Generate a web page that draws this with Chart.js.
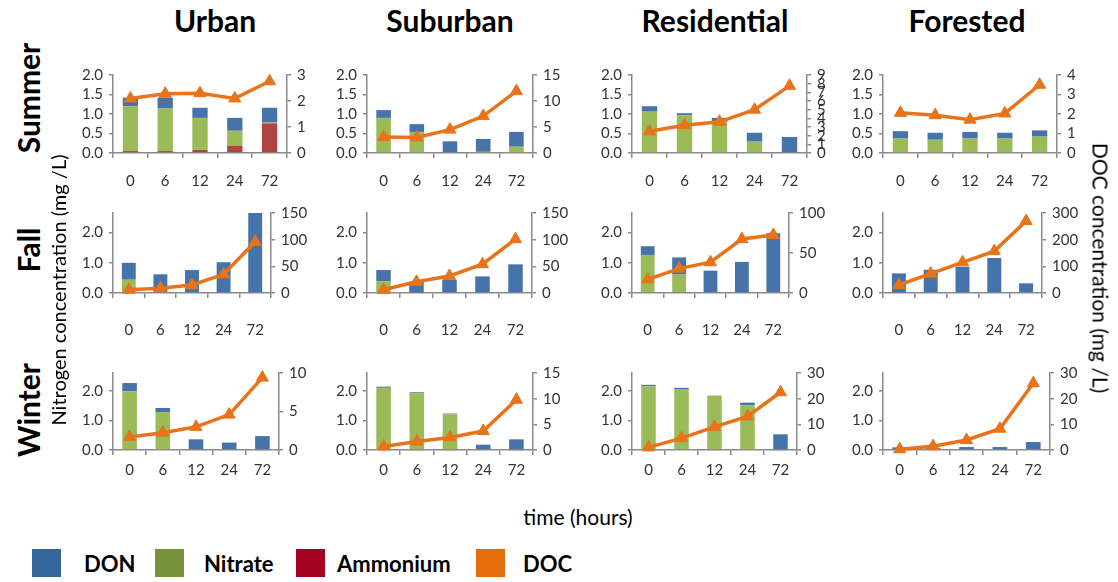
<!DOCTYPE html>
<html>
<head>
<meta charset="utf-8">
<script src="https://cdn.jsdelivr.net/npm/chart.js@4.4.0/dist/chart.umd.min.js"></script>
<style>
  body { margin: 0; width: 1118px; height: 582px; background: #fff; position: relative; overflow: hidden; font-family: Lato, "Open Sans", sans-serif; color: #000; }
  canvas { position: absolute; }
  .t { position: absolute; white-space: nowrap; transform-origin: center; }
  .box { position: absolute; width: 29px; height: 28px; }
</style>
</head>
<body>
<script>
// categories
const hours = ['0', '6', '12', '24', '72'];
const sites = ['Urban', 'Suburban', 'Residential', 'Forested'];
const seasons = ['Summer', 'Fall', 'Winter'];

// nitrogen (mg/L), one row per site: Urban, Suburban, Residential, Forested
const summerAmmonium = [[0.05, 0.05, 0.08, 0.18, 0.76], [0, 0, 0, 0, 0], [0, 0, 0, 0, 0], [0, 0, 0, 0, 0]];
const summerNitrate = [[1.15, 1.09, 0.82, 0.39, 0.02], [0.9, 0.54, 0, 0.03, 0.16], [1.06, 0.97, 0.8, 0.29, 0], [0.37, 0.34, 0.37, 0.37, 0.42]];
const summerDON = [[0.22, 0.28, 0.26, 0.33, 0.38], [0.2, 0.2, 0.3, 0.33, 0.38], [0.14, 0.05, 0.1, 0.23, 0.41], [0.19, 0.18, 0.17, 0.15, 0.16]];

const fallAmmonium = [[0.02, 0, 0, 0, 0], [0, 0.02, 0, 0, 0], [0, 0.03, 0, 0, 0], [0.02, 0, 0, 0, 0]];
const fallNitrate = [[0.42, 0, 0, 0, 0], [0.39, 0, 0, 0, 0], [1.26, 0.58, 0, 0, 0.03], [0, 0.02, 0, 0.02, 0.02]];
const fallDON = [[0.56, 0.62, 0.76, 1.02, 2.65], [0.37, 0.35, 0.44, 0.55, 0.95], [0.29, 0.57, 0.74, 1.03, 1.95], [0.63, 0.75, 0.87, 1.14, 0.3]];

const winterAmmonium = [[0, 0, 0, 0, -0.02], [0, -0.02, -0.02, 0, -0.02], [0, 0, 0, 0, -0.03], [0, 0, 0, 0, 0]];
const winterNitrate = [[1.98, 1.28, 0, 0.02, 0], [2.1, 1.92, 1.21, 0, 0], [2.15, 2.06, 1.84, 1.51, 0], [0, 0, 0, -0.03, 0]];
const winterDON = [[0.28, 0.14, 0.36, 0.23, 0.47], [0.04, 0.03, 0.02, 0.18, 0.36], [0.05, 0.04, -0.03, 0.09, 0.53], [0.09, 0.07, 0.1, 0.1, 0.27]];

// DOC (mg/L)
const summerDOC = [[2.1, 2.28, 2.3, 2.1, 2.76], [3.1, 3.0, 4.5, 7.1, 11.9], [2.5, 3.2, 3.6, 5.0, 7.75], [2.06, 1.94, 1.71, 2.03, 3.5]];
const fallDOC = [[6, 9, 15, 35, 96], [6, 21, 32, 54, 101], [17, 30.5, 38.5, 67.5, 72.6], [30, 72.5, 115, 157, 270]];
const winterDOC = [[1.7, 2.25, 3.0, 4.6, 9.4], [0.7, 1.65, 2.45, 3.7, 9.8], [1, 4.6, 9, 13.1, 22.5], [0.3, 1.5, 3.9, 8.3, 26]];

// axis ticks
const summerNTicks = [0, 0.5, 1, 1.5, 2];
const fallNTicks = [0, 1, 2];
const winterNTicks = [0, 1, 2];
const nAxisMax = [2.0, 2.65, 2.6];
const docAxisMax = [[3, 15, 9, 4], [150, 150, 100, 300], [10, 15, 30, 30]];
const docAxisStep = [[1, 5, 1, 1], [50, 50, 50, 100], [5, 5, 10, 10]];

const ammonium = [summerAmmonium, fallAmmonium, winterAmmonium];
const nitrate = [summerNitrate, fallNitrate, winterNitrate];
const don = [summerDON, fallDON, winterDON];
const doc = [summerDOC, fallDOC, winterDOC];
const nTicks = [summerNTicks, fallNTicks, winterNTicks];

// colours
const BLUE = '#4673AA', GREEN = '#9BBB59', RED = '#B0443F', ORANGE = '#E8731A';
const AXIS = '#8a8a8a', TICK = '#333';

// panel geometry (pixels)
const rowTop = [70, 208, 368];
const rowBottom = [153, 293, 450];
const xGap = [28, 37, 20];
const colLeft = [113, 367, 632, 883];
const colRight = [[287, 533, 807, 1057], [271, 532, 789, 1042], [279, 533, 797, 1050]];

const tickFont = { family: 'Lato', size: 15 };

function panel(r, c) {
  const left = colLeft[c], right = colRight[r][c];
  const padTop = 10, sideW = 45, xh = xGap[r] + 14;
  const cv = document.createElement('canvas');
  const w = right - left + sideW * 2, h = rowBottom[r] - rowTop[r] + padTop + xh;
  cv.width = w; cv.height = h;
  cv.style.left = (left - sideW) + 'px';
  cv.style.top = (rowTop[r] - padTop) + 'px';
  document.body.appendChild(cv);

  const docTicks = [];
  for (let v = 0; v <= docAxisMax[r][c] + 1e-9; v += docAxisStep[r][c]) docTicks.push(v);

  new Chart(cv, {
    type: 'bar',
    data: {
      labels: hours,
      datasets: [
        { type: 'line', label: 'DOC', data: doc[r][c], yAxisID: 'y2', order: 0,
          borderColor: ORANGE, backgroundColor: ORANGE, borderWidth: 3.5,
          pointStyle: 'triangle', pointRadius: 7, pointBorderWidth: 1, tension: 0, clip: false },
        { label: 'Ammonium', data: ammonium[r][c], backgroundColor: RED, order: 1, clip: false },
        { label: 'Nitrate', data: nitrate[r][c], backgroundColor: GREEN, order: 1, clip: false },
        { label: 'DON', data: don[r][c], backgroundColor: BLUE, order: 1, clip: false },
      ]
    },
    options: {
      responsive: false,
      animation: false,
      barPercentage: 0.44,
      categoryPercentage: 1,
      layout: { padding: { top: padTop, left: 0, right: 0, bottom: 0 } },
      plugins: { legend: { display: false }, tooltip: { enabled: false } },
      scales: {
        x: {
          stacked: true,
          offset: true,
          grid: { offset: true, drawOnChartArea: false, color: AXIS, lineWidth: 1.5, tickLength: 5 },
          border: { color: AXIS, width: 1.5 },
          ticks: { font: tickFont, color: TICK, padding: xGap[r] - 14, maxRotation: 0 },
          afterFit(s) { s.height = xh; }
        },
        y: {
          stacked: true,
          position: 'left',
          min: 0,
          max: nAxisMax[r],
          grid: { drawOnChartArea: false, color: AXIS, lineWidth: 1.5, tickLength: 4 },
          border: { color: AXIS, width: 1.5 },
          ticks: { font: tickFont, color: TICK, padding: 6, autoSkip: false, callback: v => v.toFixed(1) },
          afterBuildTicks(s) { s.ticks = nTicks[r].map(v => ({ value: v })); },
          afterFit(s) { s.width = sideW; }
        },
        y2: {
          position: 'right',
          min: 0,
          max: docAxisMax[r][c],
          grid: { drawOnChartArea: false, color: AXIS, lineWidth: 1.5, tickLength: 4 },
          border: { color: AXIS, width: 1.5 },
          ticks: { font: tickFont, color: TICK, padding: 6, autoSkip: false },
          afterBuildTicks(s) { s.ticks = docTicks.map(v => ({ value: v })); },
          afterFit(s) { s.width = sideW; }
        }
      }
    }
  });
}

seasons.forEach((s, r) => sites.forEach((site, c) => panel(r, c)));

// text
function text(str, x, y, size, weight, rot) {
  const d = document.createElement('div');
  d.className = 't';
  d.textContent = str;
  d.style.left = x + 'px';
  d.style.top = y + 'px';
  d.style.fontSize = size + 'px';
  d.style.fontWeight = weight;
  d.style.transform = 'translate(-50%, -50%) rotate(' + (rot || 0) + 'deg)';
  document.body.appendChild(d);
}
const siteX = [215, 450, 715, 967];
sites.forEach((s, i) => text(s, siteX[i], 20, 30, 'bold'));
const seasonY = [98, 250, 410];
seasons.forEach((s, i) => text(s, 28, seasonY[i], 30, 'bold', -90));
text('Nitrogen concentration (mg /L)', 58, 290, 20, 'normal', -90);
text('DOC concentration (mg /L)', 1101, 268, 21, 'normal', 90);
text('time (hours)', 578, 516, 21, 'normal');

// legend
const legendNames = ['DON', 'Nitrate', 'Ammonium', 'DOC'];
const legendColors = ['#336699', '#77933C', '#A50021', '#E46C0A'];
const legendBoxX = [32, 155, 296, 476];
const legendTextX = [84, 204, 337, 523];
legendNames.forEach((n, i) => {
  const b = document.createElement('div');
  b.className = 'box';
  b.style.left = legendBoxX[i] + 'px';
  b.style.top = '549px';
  b.style.background = legendColors[i];
  document.body.appendChild(b);
  const t = document.createElement('div');
  t.className = 't';
  t.textContent = n;
  t.style.left = legendTextX[i] + 'px';
  t.style.top = '563px';
  t.style.fontSize = '22px';
  t.style.fontWeight = 'bold';
  t.style.transform = 'translateY(-50%)';
  document.body.appendChild(t);
});
</script>
</body>
</html>
